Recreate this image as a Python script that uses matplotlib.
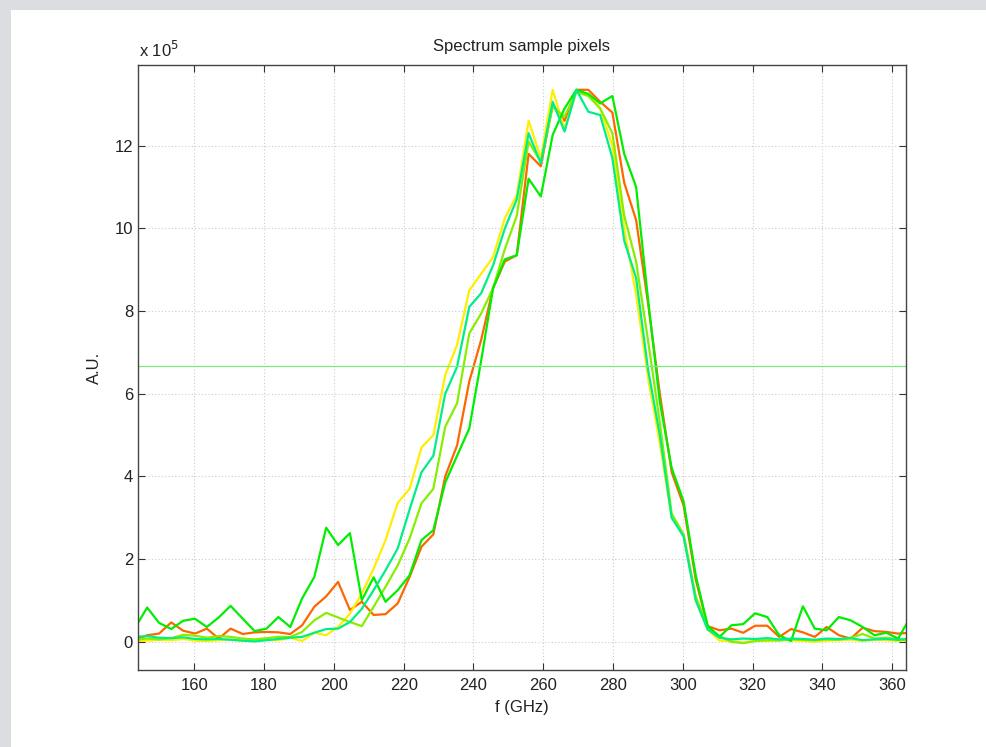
import matplotlib
matplotlib.use("Agg")
import matplotlib.pyplot as plt
from matplotlib.patches import Rectangle

# frequency grid (GHz) and spectra of five sample pixels (units of 1e5 A.U.)
freq = [143.1, 146.5, 149.9, 153.4, 156.8, 160.2, 163.6, 167.0, 170.4, 173.9,
        177.3, 180.7, 184.1, 187.5, 190.9, 194.4, 197.8, 201.2, 204.6, 208.0,
        211.4, 214.8, 218.3, 221.7, 225.1, 228.5, 231.9, 235.3, 238.8, 242.2,
        245.6, 249.0, 252.4, 255.8, 259.3, 262.7, 266.1, 269.5, 272.9, 276.3,
        279.8, 283.2, 286.6, 290.0, 293.4, 296.8, 300.2, 303.7, 307.1, 310.5,
        313.9, 317.3, 320.7, 324.2, 327.6, 331.0, 334.4, 337.8, 341.2, 344.7,
        348.1, 351.5, 354.9, 358.3, 361.7, 365.2]

px_orange = [0.05, 0.16, 0.20, 0.47, 0.27, 0.20, 0.32, 0.08, 0.32, 0.19,
             0.23, 0.24, 0.23, 0.19, 0.40, 0.85, 1.10, 1.45, 0.77, 0.97,
             0.65, 0.67, 0.93, 1.57, 2.30, 2.60, 4.00, 4.75, 6.30, 7.30,
             8.55, 9.20, 9.35, 11.80, 11.50, 13.00, 12.60, 13.35, 13.35, 13.06,
             12.80, 11.10, 10.20, 8.20, 6.00, 4.10, 3.30, 1.50, 0.38, 0.28,
             0.32, 0.22, 0.39, 0.39, 0.12, 0.31, 0.23, 0.12, 0.36, 0.16,
             0.08, 0.34, 0.26, 0.24, 0.20, 0.22]

px_yellow = [0.02, 0.03, 0.05, 0.04, 0.07, 0.03, 0.02, 0.04, 0.06, 0.02,
             0.03, 0.05, 0.04, 0.10, 0.02, 0.22, 0.16, 0.36, 0.68, 1.17,
             1.77, 2.46, 3.36, 3.70, 4.70, 5.00, 6.45, 7.18, 8.50, 8.90,
             9.30, 10.25, 10.80, 12.60, 11.70, 13.35, 12.40, 13.30, 13.25, 12.90,
             12.00, 10.00, 8.40, 6.40, 4.80, 3.00, 2.60, 1.00, 0.30, 0.03,
             0.02, -0.02, 0.03, 0.02, 0.05, 0.04, 0.02, 0.00, 0.03, 0.04,
             0.05, 0.02, 0.05, 0.04, 0.02, 0.03]

px_lime = [0.05, 0.08, 0.06, 0.09, 0.17, 0.15, 0.10, 0.14, 0.12, 0.08,
           0.06, 0.09, 0.12, 0.12, 0.24, 0.52, 0.70, 0.59, 0.48, 0.38,
           0.85, 1.33, 1.85, 2.50, 3.35, 3.70, 5.20, 5.77, 7.46, 7.94,
           8.55, 9.50, 10.30, 12.10, 11.60, 12.94, 12.70, 13.30, 13.20, 12.90,
           12.30, 10.30, 9.20, 7.30, 5.30, 3.10, 2.60, 1.10, 0.36, 0.14,
           0.00, -0.03, 0.02, 0.04, 0.03, 0.06, 0.05, 0.04, 0.06, 0.05,
           0.10, 0.19, 0.08, 0.10, 0.06, 0.08]

px_green = [0.35, 0.83, 0.46, 0.31, 0.51, 0.56, 0.36, 0.59, 0.87, 0.56,
            0.26, 0.32, 0.60, 0.36, 1.05, 1.57, 2.76, 2.34, 2.63, 1.01,
            1.56, 0.97, 1.25, 1.61, 2.46, 2.70, 3.85, 4.50, 5.16, 6.80,
            8.55, 9.25, 9.35, 11.20, 10.77, 12.26, 12.90, 13.35, 13.25, 13.02,
            13.20, 11.80, 11.00, 8.30, 5.80, 4.20, 3.40, 1.60, 0.39, 0.12,
            0.40, 0.43, 0.69, 0.60, 0.16, 0.02, 0.86, 0.32, 0.28, 0.60,
            0.52, 0.36, 0.16, 0.22, 0.08, 0.60]

px_teal = [0.12, 0.14, 0.10, 0.09, 0.11, 0.07, 0.06, 0.07, 0.05, 0.03,
           0.01, 0.04, 0.07, 0.10, 0.12, 0.22, 0.31, 0.32, 0.48, 0.80,
           1.25, 1.73, 2.26, 3.20, 4.10, 4.50, 6.00, 6.65, 8.10, 8.43,
           9.10, 10.00, 10.70, 12.30, 11.57, 13.06, 12.34, 13.35, 12.82, 12.74,
           11.70, 9.70, 8.80, 6.60, 5.00, 3.00, 2.55, 1.00, 0.30, 0.10,
           0.06, 0.08, 0.07, 0.09, 0.06, 0.08, 0.07, 0.05, 0.08, 0.07,
           0.09, 0.04, 0.06, 0.07, 0.05, 0.06]

series = [
    (px_orange, '#ff6600'),
    (px_yellow, '#ffee00'),
    (px_lime, '#88ee00'),
    (px_green, '#00ee00'),
    (px_teal, '#00ee88'),
]

half_max = 6.67

plt.rcParams['font.family'] = ['Liberation Sans', 'DejaVu Sans']
FS = 12

fig = plt.figure(figsize=(9.87, 7.47), dpi=100, facecolor='#dcdde1')
# white panel, leaving a grey strip on the top and left
fig.patches.append(Rectangle((11 / 987, 0), 1, 737 / 747, transform=fig.transFigure,
                             facecolor='white', edgecolor='none', zorder=-10))

ax = fig.add_axes([0.1398, 0.1031, 0.7778, 0.8099])
ax.set_facecolor('white')

for values, color in series:
    ax.plot(freq, values, color=color, linewidth=1.6)

ax.axhline(half_max, color='#77ee77', linewidth=0.9)

ax.set_xlim(143.87, 363.84)
ax.set_ylim(-0.68, 13.95)
ax.set_xticks(range(160, 361, 20))
ax.set_yticks(range(0, 13, 2))

ax.grid(True, color='#cccccc', linestyle=(0, (1, 2)), linewidth=0.8)
ax.tick_params(direction='in', length=5, top=True, right=True,
               labelsize=FS, color='#333333', labelcolor='#222222')
ax.tick_params(axis='x', pad=6)
for sp in ax.spines.values():
    sp.set_color('#444444')
    sp.set_linewidth(1.0)

ax.set_title('Spectrum sample pixels', fontsize=FS, pad=10, color='#222222')
ax.set_xlabel('f (GHz)', fontsize=FS, color='#222222', labelpad=5)
ax.set_ylabel('A.U.', fontsize=FS, color='#222222', labelpad=9)
ax.text(0.001, 1.013, r'x 10$^{5}$', transform=ax.transAxes, fontsize=FS,
        color='#222222', ha='left', va='baseline')

fig.savefig('out.png', dpi=100, facecolor=fig.get_facecolor())
